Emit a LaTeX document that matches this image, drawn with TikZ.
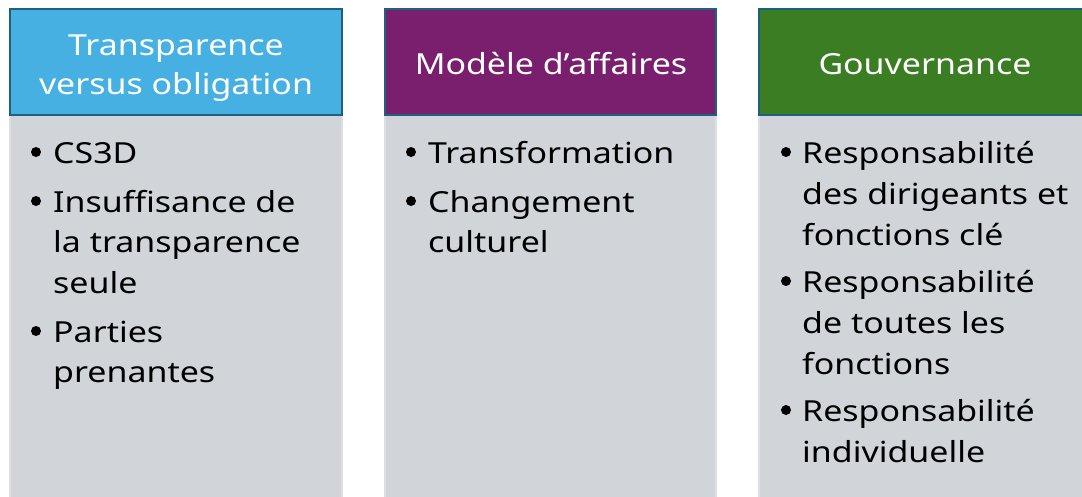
\documentclass[tikz,border=0pt]{standalone}
\usepackage{fontspec}
\setmainfont{Noto Sans}[FakeStretch=1.17]
\definecolor{hdrblue}{HTML}{45B0E1}
\definecolor{hdrpurple}{HTML}{7A1F6E}
\definecolor{hdrgreen}{HTML}{3B7D23}
\definecolor{hdrline}{HTML}{1F5F7F}
\definecolor{bodyfill}{HTML}{D1D5DA}
\definecolor{bodyline}{HTML}{DCDFE3}
\tikzset{
  hdrbox/.style={draw=hdrline, line width=2.5pt},
  bodybox/.style={fill=bodyfill, draw=bodyline, line width=1.2pt},
  hdrtext/.style={text=white, font=\fontsize{29}{35}\selectfont, inner sep=0pt, anchor=base},
  itemtext/.style={text=black, font=\fontsize{29}{35}\selectfont, inner sep=0pt, anchor=base west},
  bul/.style={circle, fill=black, inner sep=0pt, minimum size=10pt}
}
\begin{document}
\begin{tikzpicture}[x=1pt,y=-1pt]
\useasboundingbox (0,0) rectangle (1082,496);
\clip (0,0) rectangle (1082,496);
% bodies
\draw[bodybox] (10,115) rectangle (342,510);
\draw[bodybox] (385,115) rectangle (716,510);
\draw[bodybox] (759,115) rectangle (1091,510);
% headers
\draw[hdrbox, fill=hdrblue] (10,9) rectangle (342,115);
\draw[hdrbox, fill=hdrpurple] (385,9) rectangle (716,115);
\draw[hdrbox, fill=hdrgreen] (759,9) rectangle (1091,115);
\node[hdrtext] (h1a) at (176,55) {Transparence};
\node[hdrtext] (h1b) at (176,94) {versus obligation};
\node[hdrtext] (h2) at (551,74) {Modèle d’affaires};
\node[hdrtext] (h3) at (925,74) {Gouvernance};
% column 1
\node[bul] (b11) at (36,152) {};
\node[itemtext] (t11) at (53,163) {CS3D};
\node[bul] (b12) at (36,201) {};
\node[itemtext] (t12a) at (53,212) {Insuffisance de};
\node[itemtext] (t12b) at (53,252) {la transparence};
\node[itemtext] (t12c) at (53,293) {seule};
\node[bul] (b13) at (36,331) {};
\node[itemtext] (t13a) at (53,342) {Parties};
\node[itemtext] (t13b) at (53,382) {prenantes};
% column 2
\node[bul] (b21) at (411,152) {};
\node[itemtext] (t21) at (428,163) {Transformation};
\node[bul] (b22) at (411,201) {};
\node[itemtext] (t22a) at (428,212) {Changement};
\node[itemtext] (t22b) at (428,252) {culturel};
% column 3
\node[bul] (b31) at (786,152) {};
\node[itemtext] (t31a) at (802,163) {Responsabilité};
\node[itemtext] (t31b) at (802,204) {des dirigeants et};
\node[itemtext] (t31c) at (802,245) {fonctions clé};
\node[bul] (b32) at (786,281) {};
\node[itemtext] (t32a) at (802,292) {Responsabilité};
\node[itemtext] (t32b) at (802,333) {de toutes les};
\node[itemtext] (t32c) at (802,374) {fonctions};
\node[bul] (b33) at (786,410) {};
\node[itemtext] (t33a) at (802,421) {Responsabilité};
\node[itemtext] (t33b) at (802,462) {individuelle};
\end{tikzpicture}
\end{document}
